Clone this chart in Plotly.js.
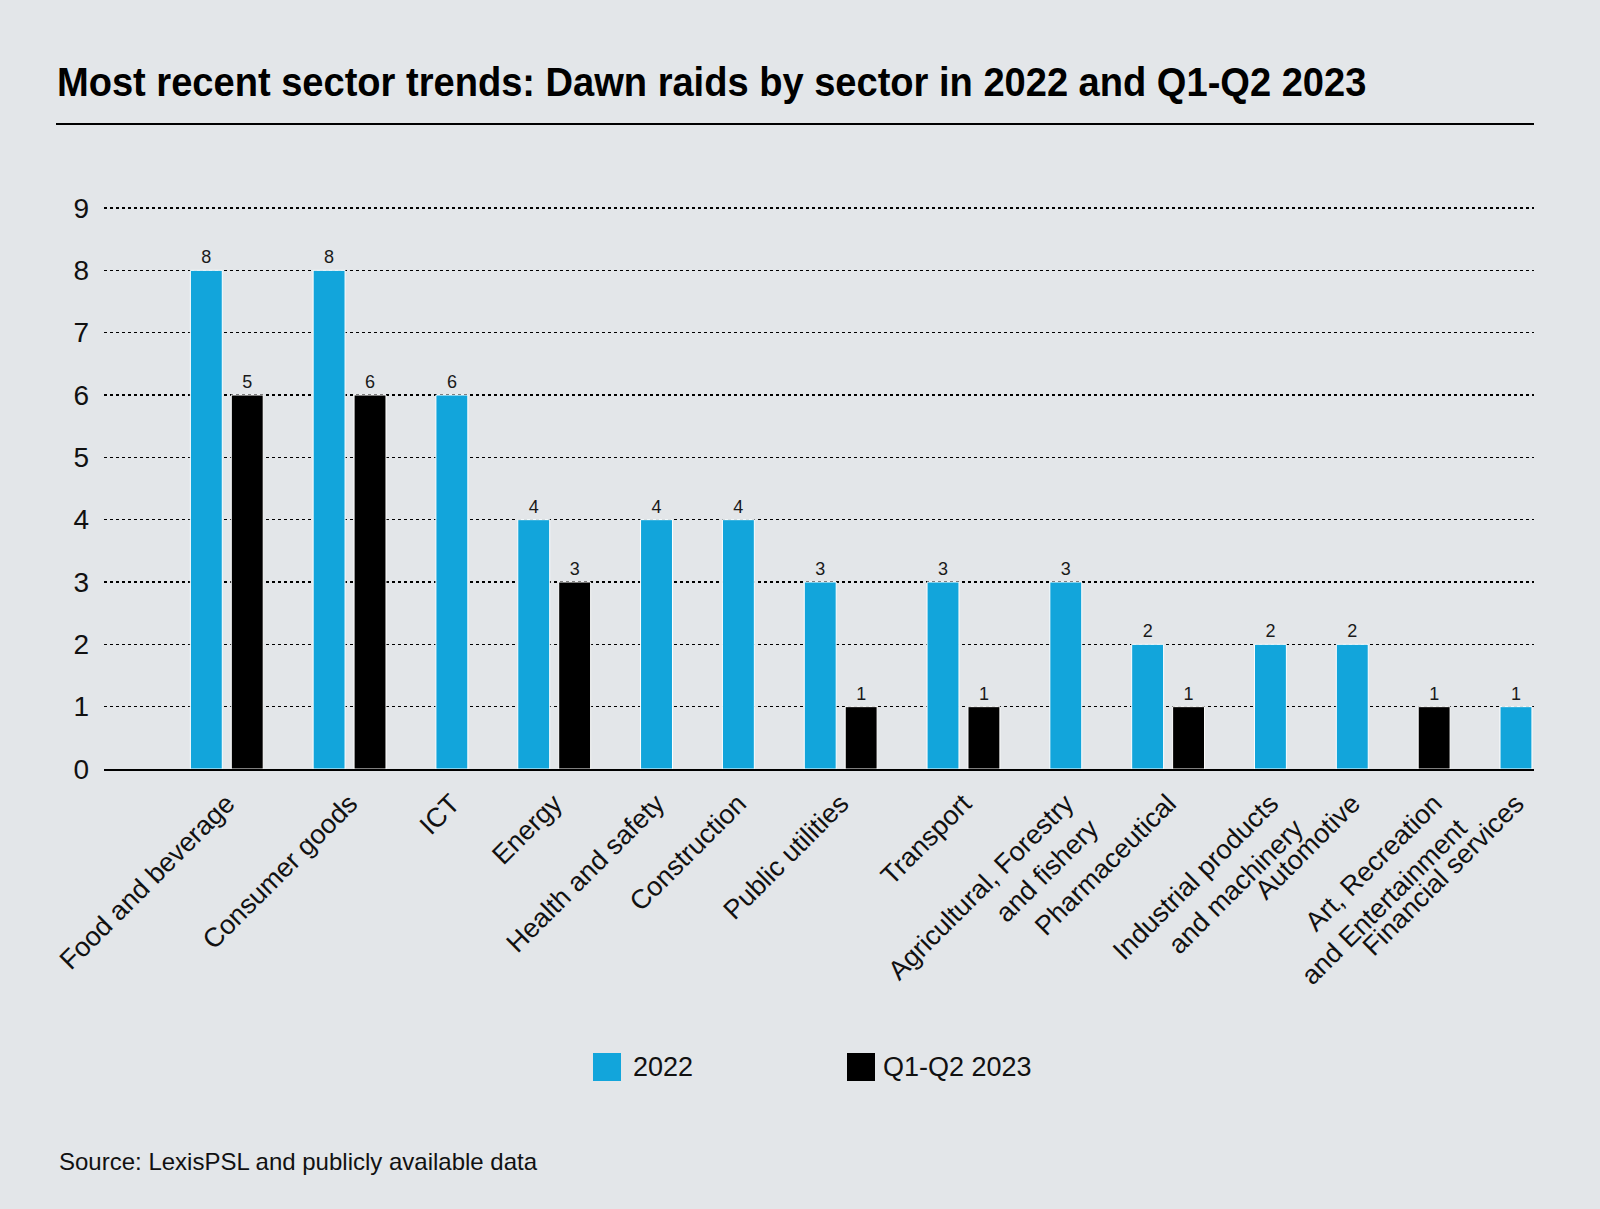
<!DOCTYPE html>
<html>
<head>
<meta charset="utf-8">
<script src="https://cdn.plot.ly/plotly-3.0.1.min.js"></script>
<style>
  html, body { margin: 0; padding: 0; background: #e3e6e9; }
  #chart { width: 1600px; height: 1209px; }
</style>
</head>
<body>
<div id="chart"></div>
<script>
// ---- Data ----
const categories = [
  "Food and beverage", "Consumer goods", "ICT", "Energy", "Health and safety",
  "Construction", "Public utilities", "Transport",
  "Agricultural, Forestry<br>and fishery", "Pharmaceutical",
  "Industrial products<br>and machinery", "Automotive",
  "Art, Recreation<br>and Entertainment", "Financial services"
];
const values2022 = [8, 8, 6, 4, 4, 4, 3, 3, 3, 2, 2, 2, null, 1];
const valuesQ1Q22023 = [6, 6, null, 3, null, null, 1, 1, null, 1, null, null, 1, null];
// printed data labels (the first black bar is labelled "5" in the source)
const labels2022 = ["8", "8", "6", "4", "4", "4", "3", "3", "3", "2", "2", "2", "", "1"];
const labelsQ1Q22023 = ["5", "6", "", "3", "", "", "1", "1", "", "1", "", "", "1", ""];
const seriesNames = ["2022", "Q1-Q2 2023"];
const yTicks = [0, 1, 2, 3, 4, 5, 6, 7, 8, 9];
const titleText = "Most recent sector trends: Dawn raids by sector in 2022 and Q1-Q2 2023";
const sourceText = "Source: LexisPSL and publicly available data";

// ---- Compact grouping: bars of a sector sit side by side, one empty slot between sectors ----
const x2022 = [], xQ = [], tickPos = [];
let slot = 0;
categories.forEach((c, i) => {
  const has1 = values2022[i] != null, has2 = valuesQ1Q22023[i] != null;
  const n = (has1 ? 1 : 0) + (has2 ? 1 : 0);
  let s = slot;
  x2022.push(has1 ? s++ : null);
  xQ.push(has2 ? s++ : null);
  tickPos.push(slot + (Math.max(n, 1) - 1) / 2);
  slot += Math.max(n, 1) + 1;
});

const blue = "#12a5db";
const FONT = "'Liberation Sans', Arial, sans-serif";

const traces = [
  {
    type: "bar", name: seriesNames[0],
    x: x2022, y: values2022, text: labels2022,
    width: 0.78,
    marker: { color: blue, line: { color: "#ffffff", width: 1 } },
    textposition: "outside", cliponaxis: false,
    textfont: { family: FONT, size: 18, color: "#1a1a1a" },
    showlegend: false, hoverinfo: "skip"
  },
  {
    type: "bar", name: seriesNames[1],
    x: xQ, y: valuesQ1Q22023, text: labelsQ1Q22023,
    width: 0.78,
    marker: { color: "#000000", line: { color: "#ffffff", width: 1 } },
    textposition: "outside", cliponaxis: false,
    textfont: { family: FONT, size: 18, color: "#1a1a1a" },
    showlegend: false, hoverinfo: "skip"
  }
];

// plot area in pixels: x 104..1534, y 199..769 (value 9 sits at y=208, 0 at y=769)
const PL = 104, PR = 1534, PT = 199, PB = 769;
const yTop = 9 + (208 - PT) / ((PB - 208) / 9);
const px = v => (v - PL) / (PR - PL);
const py = v => (PB - v) / (PB - PT);

const layout = {
  width: 1600, height: 1209,
  paper_bgcolor: "#e3e6e9", plot_bgcolor: "#e3e6e9",
  margin: { l: PL, r: 1600 - PR, t: PT, b: 1209 - PB, pad: 0 },
  font: { family: FONT, color: "#111111" },
  barmode: "overlay",
  showlegend: false,
  title: {
    text: "<b>" + titleText + "</b>",
    font: { family: FONT, size: 41, color: "#000000" },
    x: 57 / 1600, xanchor: "left", xref: "container",
    y: 1 - 82 / 1209, yanchor: "middle", yref: "container"
  },
  xaxis: {
    type: "linear",
    range: [-2.5, 32.44],
    tickmode: "array", tickvals: tickPos, ticktext: categories,
    tickangle: -45,
    tickfont: { family: FONT, size: 27, color: "#111111" },
    ticks: "", showgrid: false, zeroline: false,
    showline: true, linecolor: "#000000", linewidth: 2,
    ticklabelstandoff: 6, fixedrange: true
  },
  yaxis: {
    range: [0, yTop],
    tickmode: "array", tickvals: yTicks,
    tickfont: { family: FONT, size: 28, color: "#111111" },
    ticks: "", ticklabelstandoff: 14,
    showgrid: true, gridcolor: "#000000", gridwidth: 1.5, griddash: "dot",
    zeroline: false, showline: false, fixedrange: true
  },
  shapes: [
    { type: "line", xref: "paper", yref: "paper", x0: px(56), x1: px(1534), y0: py(124), y1: py(124),
      line: { color: "#000000", width: 2 } },
    { type: "rect", xref: "paper", yref: "paper", x0: px(593), x1: px(621), y0: py(1053), y1: py(1081),
      fillcolor: blue, line: { width: 0 } },
    { type: "rect", xref: "paper", yref: "paper", x0: px(847), x1: px(875), y0: py(1053), y1: py(1081),
      fillcolor: "#000000", line: { width: 0 } }
  ],
  annotations: [
    { xref: "paper", yref: "paper", x: px(631), y: py(1067), xanchor: "left", yanchor: "middle",
      text: seriesNames[0], showarrow: false, font: { family: FONT, size: 27, color: "#111111" } },
    { xref: "paper", yref: "paper", x: px(881), y: py(1067), xanchor: "left", yanchor: "middle",
      text: seriesNames[1], showarrow: false, font: { family: FONT, size: 27, color: "#111111" } },
    { xref: "paper", yref: "paper", x: px(57), y: py(1161), xanchor: "left", yanchor: "middle",
      text: sourceText, showarrow: false, font: { family: FONT, size: 24, color: "#111111" } }
  ]
};

Plotly.newPlot("chart", traces, layout, { staticPlot: true, displayModeBar: false }).then(gd => {
  // condensed headline: squeeze the bold title horizontally to the width it has in the source
  const t = gd.querySelector(".gtitle");
  if (t) {
    const w = t.getBBox().width;
    const target = 1310;
    if (w > target) {
      const x0 = parseFloat(t.getAttribute("x")) || 57;
      const k = target / w;
      t.setAttribute("transform", `translate(${x0},0) scale(${k},1) translate(${-x0},0)`);
    }
  }
});
</script>
</body>
</html>
